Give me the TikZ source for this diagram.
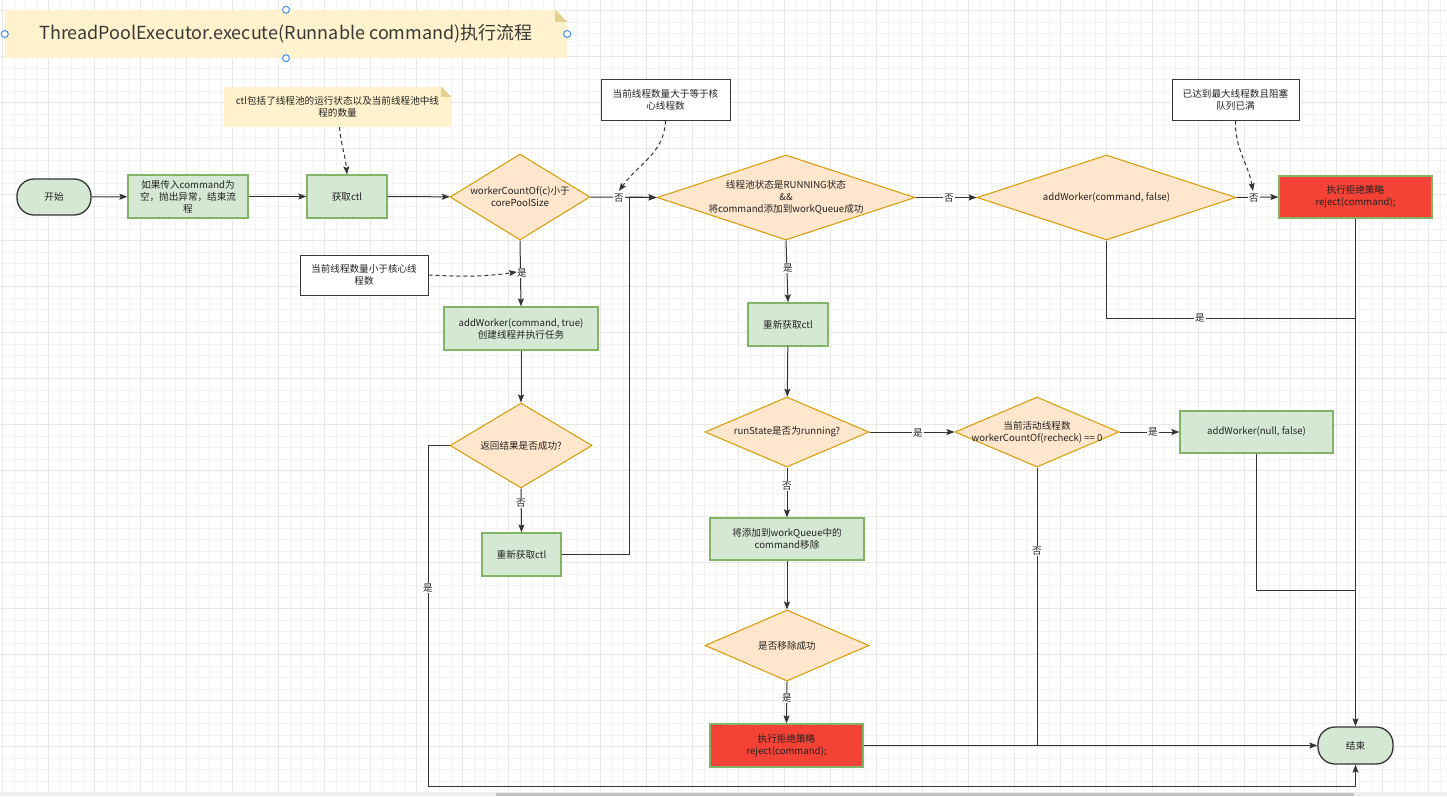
\documentclass[tikz,border=0pt]{standalone}
\usepackage{fontspec}
\setmainfont{Noto Sans CJK SC}
\usetikzlibrary{shapes.geometric,arrows.meta}
\definecolor{gfill}{HTML}{D5E8D4}
\definecolor{gborder}{HTML}{82B366}
\definecolor{ofill}{HTML}{FFE6CC}
\definecolor{oborder}{HTML}{D79B00}
\definecolor{redf}{HTML}{F44336}
\definecolor{notef}{HTML}{FFF2CC}
\definecolor{notefold}{HTML}{E3CF8E}
\definecolor{lc}{HTML}{333333}
\definecolor{txt}{HTML}{222222}
\definecolor{nborder}{HTML}{36393D}
\definecolor{handle}{HTML}{3D8EE6}
\tikzset{
  base/.style={font=\fontsize{9.6}{12}\selectfont, text=txt, align=center},
  proc/.style={base, rectangle, draw=gborder, fill=gfill, line width=1.3pt, inner sep=2pt},
  redbox/.style={proc, fill=redf},
  term/.style={base, rectangle, rounded corners=17pt, draw=lc, fill=gfill, line width=1.3pt},
  dia/.style={diamond, draw=oborder, fill=ofill, line width=1pt, inner sep=0pt},
  wnote/.style={base, rectangle, draw=nborder, fill=white, line width=1pt},
  ynote/.style={base, rectangle, inner sep=0pt},
  flow/.style={draw=lc, line width=1pt, -{Stealth[length=8pt,width=6pt,inset=1.5pt]}},
  plain/.style={draw=lc, line width=1pt},
  dnote/.style={draw=lc, line width=1pt, dash pattern=on 4pt off 3pt, -{Stealth[length=8pt,width=6pt,inset=1.5pt]}},
  lab/.style={font=\fontsize{9.6}{12}\selectfont, text=txt, fill=white, inner sep=1pt},
  hdl/.style={circle, draw=handle, fill=white, line width=1pt, inner sep=0pt, minimum size=7pt},
}
\begin{document}
\begin{tikzpicture}[x=1pt,y=-1pt]
\useasboundingbox (0,0) rectangle (1447,796);
\fill[white] (0,0) rectangle (1447,796);
% grid
\foreach \x in {2.7,14.2,...,1447} \draw[black!5, line width=0.6pt] (\x,0) -- (\x,791);
\foreach \y in {-1.2,10.3,...,791} \draw[black!5, line width=0.6pt] (0,\y) -- (1447,\y);
\foreach \x in {2.7,48.7,...,1447} \draw[black!9, line width=0.8pt] (\x,0) -- (\x,791);
\foreach \y in {10.3,56.3,...,791} \draw[black!9, line width=0.8pt] (0,\y) -- (1447,\y);
\fill[black!7] (0,791.5) rectangle (1447,796);
\fill[black!24] (496,793) rectangle (1354,796);

% title note
\node[ynote, minimum width=562pt, minimum height=48pt] (title) at (286,34) {};
\fill[notef] (title.north west) -- ([xshift=-12pt]title.north east) -- ([yshift=-12pt]title.north east) -- (title.south east) -- (title.south west) -- cycle;
\fill[notefold] ([xshift=-12pt]title.north east) -- ([yshift=-12pt]title.north east) -- ([xshift=-12pt,yshift=-12pt]title.north east) -- cycle;
\node[ynote, font=\fontsize{18}{22}\selectfont, text=black!78] (titletext) at (title) {ThreadPoolExecutor.execute(Runnable command)执行流程};
\node[hdl] (h1) at (title.north) {};
\node[hdl] (h2) at (title.south) {};
\node[hdl] (h3) at (title.west) {};
\node[hdl] (h4) at (title.east) {};

% ctl note
\node[ynote, minimum width=227pt, minimum height=40pt] (nctlbg) at (337.5,107) {};
\fill[notef] (nctlbg.north west) -- ([xshift=-10pt]nctlbg.north east) -- ([yshift=-10pt]nctlbg.north east) -- (nctlbg.south east) -- (nctlbg.south west) -- cycle;
\fill[notefold] ([xshift=-10pt]nctlbg.north east) -- ([yshift=-10pt]nctlbg.north east) -- ([xshift=-10pt,yshift=-10pt]nctlbg.north east) -- cycle;
\node[ynote, minimum width=227pt, minimum height=40pt] (nctl) at (nctlbg) {ctl包括了线程池的运行状态以及当前线程池中线\\程的数量};

% main nodes
\node[term, minimum width=74pt, minimum height=36pt] (start) at (54,197) {开始};
\node[proc, minimum width=120pt, minimum height=43pt] (b1) at (188,196.5) {如果传入command为\\空，抛出异常，结束流\\程};
\node[proc, minimum width=80pt, minimum height=43pt] (ctl) at (347,196.5) {获取ctl};
\node[dia, minimum width=140pt, minimum height=86pt] (d1) at (520,197) {};
\node[base] (d1t) at (d1) {workerCountOf(c)小于\\corePoolSize};
\node[wnote, minimum width=128pt, minimum height=40pt] (n3) at (364,275) {当前线程数量小于核心线\\程数};
\node[proc, minimum width=154pt, minimum height=43pt] (aw1) at (521,328.5) {addWorker(command, true)\\创建线程并执行任务};
\node[dia, minimum width=142pt, minimum height=85pt] (d3) at (521,445.5) {};
\node[base] (d3t) at (d3) {返回结果是否成功?};
\node[proc, minimum width=79pt, minimum height=43pt] (ctl2) at (521.5,554.5) {重新获取ctl};
\node[wnote, minimum width=129pt, minimum height=41pt] (n4) at (665.5,99.5) {当前线程数量大于等于核\\心线程数};
\node[dia, minimum width=258pt, minimum height=85pt] (d2) at (786,197.5) {};
\node[base] (d2t) at (d2) {线程池状态是RUNNING状态\\\&\&\\将command添加到workQueue成功};
\node[dia, minimum width=259pt, minimum height=85pt] (daf) at (1106.5,197.5) {};
\node[base] (daft) at (daf) {addWorker(command, false)};
\node[redbox, minimum width=153pt, minimum height=42pt] (rej1) at (1355.5,197) {执行拒绝策略\\reject(command);};
\node[wnote, minimum width=127pt, minimum height=41pt] (n5) at (1235.5,99.5) {已达到最大线程数且阻塞\\队列已满};
\node[proc, minimum width=80pt, minimum height=43pt] (ctl3) at (788,324.5) {重新获取ctl};
\node[dia, minimum width=164pt, minimum height=70pt] (d4) at (787,432) {};
\node[base] (d4t) at (d4) {runState是否为running?};
\node[dia, minimum width=164pt, minimum height=70pt] (d5) at (1037,432) {};
\node[base] (d5t) at (d5) {当前活动线程数\\workerCountOf(recheck) == 0};
\node[proc, minimum width=153pt, minimum height=42pt] (awn) at (1256.5,432) {addWorker(null, false)};
\node[proc, minimum width=154pt, minimum height=42pt] (rm) at (787,539) {将添加到workQueue中的\\command移除};
\node[dia, minimum width=164pt, minimum height=71pt] (d6) at (787,645.5) {};
\node[base] (d6t) at (d6) {是否移除成功};
\node[redbox, minimum width=153pt, minimum height=43pt] (rej2) at (786.5,745.5) {执行拒绝策略\\reject(command);};
\node[term, minimum width=75pt, minimum height=37pt] (end) at (1355.5,745.5) {结束};

% helper coordinates
\coordinate (j1) at (629,197);
\coordinate (c1) at (428,786);
\coordinate (m1) at (1355.5,318);
\coordinate (m2) at (1355.5,590);
\coordinate (t3) at (517,272);
\coordinate (t4) at (619,191);
\coordinate (t5) at (1253,191);

% connectors
\draw[flow] (start) -- (b1);
\draw[flow] (b1) -- (ctl);
\draw[flow] (ctl) -- (d1);
\draw[flow] (d1.east) -- (d2.west);
\draw[flow] (d1.south) -- (aw1.north);
\draw[flow] (aw1) -- (d3);
\draw[flow] (d3.south) -- (ctl2.north);
\draw[plain] (ctl2.east) -| (j1);
\draw[flow] (j1) -- (d2.west);
\draw[flow] (d3.west) -| (c1) -| (end.south);
\draw[flow] (d2.east) -- (daf.west);
\draw[flow] (daf.east) -- (rej1.west);
\draw[plain] (daf.south) |- (m1);
\draw[flow] (rej1.south) -- (end.north);
\draw[flow] (d2.south) -- (ctl3.north);
\draw[flow] (ctl3) -- (d4);
\draw[flow] (d4.east) -- (d5.west);
\draw[flow] (d5.east) -- (awn.west);
\draw[plain] (awn.south) |- (m2);
\draw[plain] (d5.south) -- (d5.south |- end.west);
\draw[flow] (d4.south) -- (rm.north);
\draw[flow] (rm) -- (d6);
\draw[flow] (d6.south) -- (rej2.north);
\draw[flow] (rej2.east) -- (end.west);

% dashed note pointers
\draw[dnote] ([xshift=2pt]nctl.south) to[out=-85,in=95] (ctl.north);
\draw[dnote] (n3.east) to[out=-3,in=188] (t3);
\draw[dnote] (n4.south) to[out=-92,in=55] (t4);
\draw[dnote] (n5.south) to[out=-92,in=100] (t5);

% edge labels
\node[lab] (l1) at (619,198) {否};
\node[lab] (l2) at (522,273) {是};
\node[lab] (l3) at (521,503) {否};
\node[lab] (l4) at (428,588) {是};
\node[lab] (l5) at (949,198) {否};
\node[lab] (l6) at (1254,198) {否};
\node[lab] (l7) at (1200,318) {是};
\node[lab] (l8) at (788,268) {是};
\node[lab] (l9) at (918,433) {是};
\node[lab] (l10) at (1153,432) {是};
\node[lab] (l11) at (1037,551) {否};
\node[lab] (l12) at (787,486) {否};
\node[lab] (l13) at (787,698) {是};
\end{tikzpicture}
\end{document}
